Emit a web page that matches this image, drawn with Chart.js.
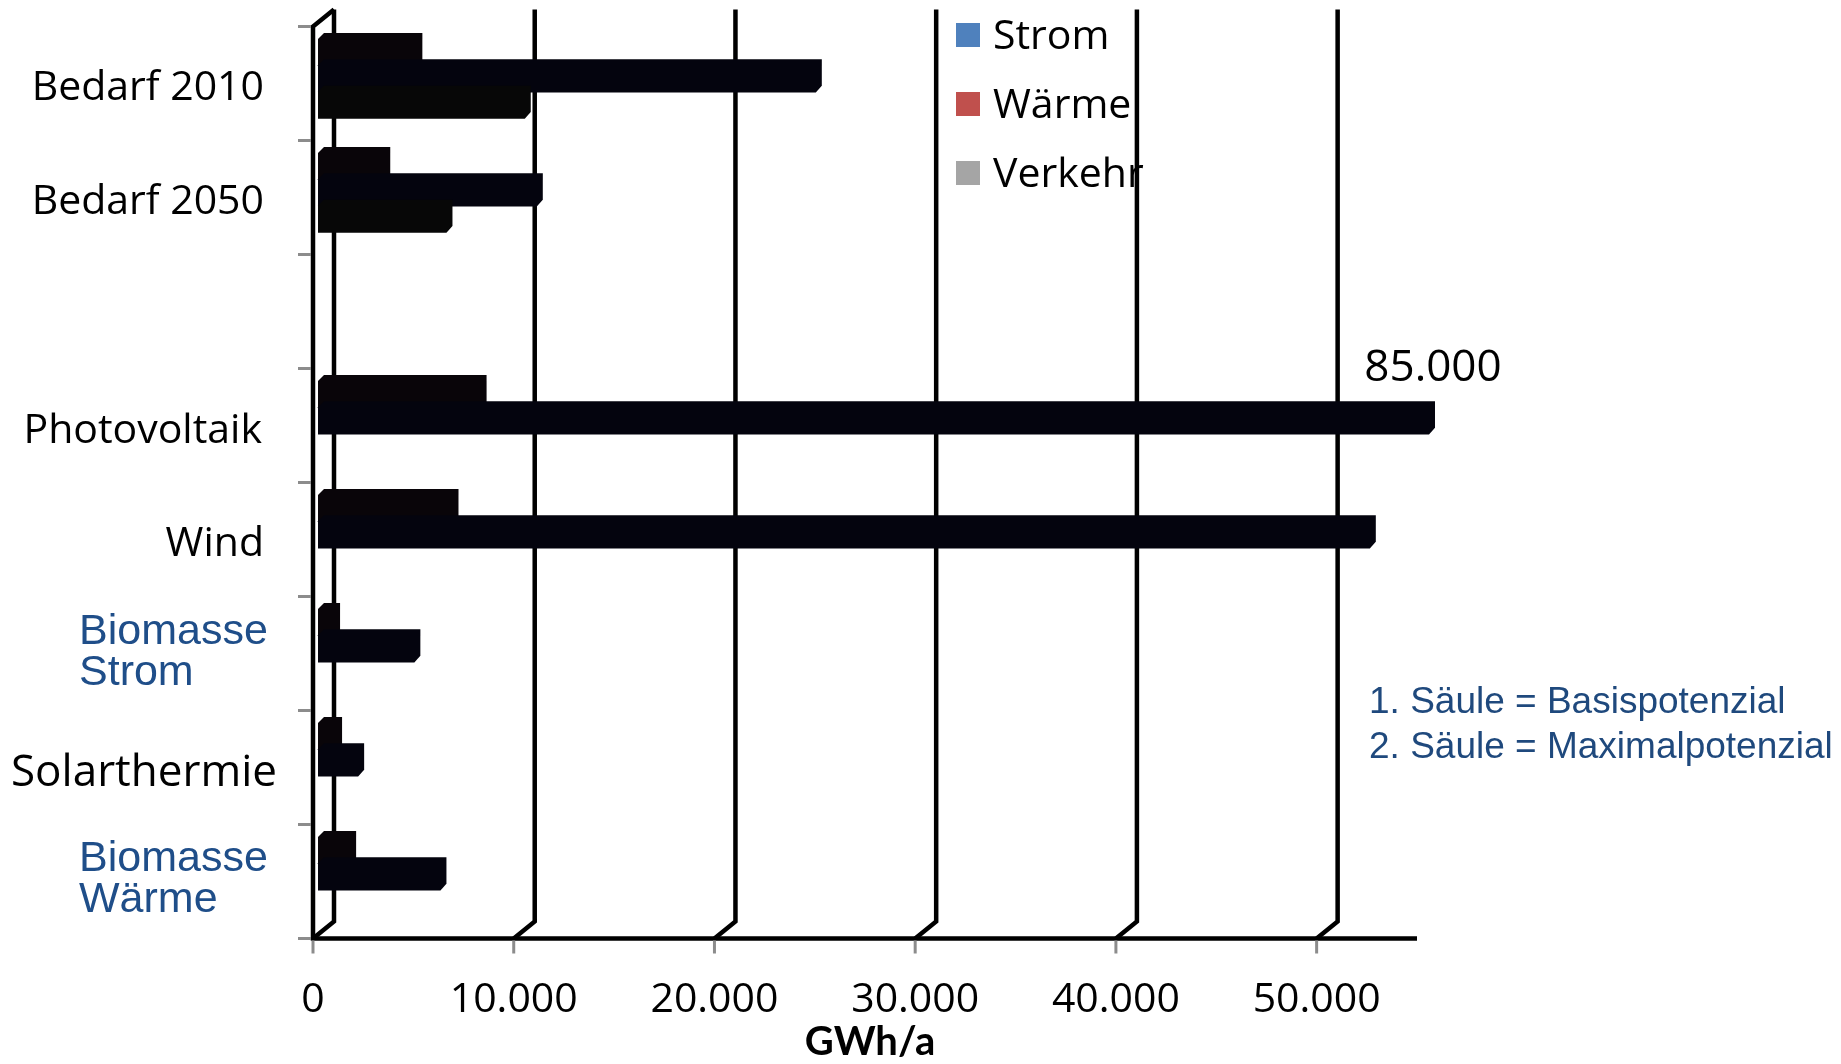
<!DOCTYPE html>
<html lang="de">
<head>
<meta charset="utf-8">
<title>Bedarf und Potenziale</title>
<script src="https://cdn.jsdelivr.net/npm/chart.js@4.4.1/dist/chart.umd.min.js"></script>
<style>
  html, body { margin: 0; padding: 0; background: #fff; }
  canvas { display: block; }
</style>
</head>
<body>
<canvas id="chart" width="1841" height="1064"></canvas>
<script>
// Kategorien (die leere Zeile trennt Bedarf und Potenziale)
const categories = ['Bedarf 2010', 'Bedarf 2050', '', 'Photovoltaik', 'Wind', ['Biomasse', 'Strom'], 'Solarthermie', ['Biomasse', 'Wärme']];

// GWh/a - bei den Potenzialen: 1. Säule = Basis, 2. Säule = Maximum
const strom   = [4900, 3300, null, 8100, 6700, 800, 900, 1600];
const waerme  = [24800, 10900, null, 85000, 52400, 4800, 2000, 6100];
const verkehr = [10300, 6400, null, null, null, null, null, null];

const seriesNames = ['Strom', 'Wärme', 'Verkehr'];
const legendColors = ['#4f81bd', '#c0504d', '#a5a5a5'];
const barColors = ['#090509', '#04040e', '#070707'];

const xTicks = [0, 10000, 20000, 30000, 40000, 50000];
const xMax = 55000;
const axisTitle = 'GWh/a';
const notes = ['1. Säule = Basispotenzial', '2. Säule = Maximalpotenzial'];

const fmt = new Intl.NumberFormat('de-DE');
const FONT = '"Open Sans"';

// 3D-Geometrie
const D = 6;                       // Tiefe der Balkenflächen
const FRONT = { dx: -5, dy: 5 };   // vordere Achsenebene
const BACK = { dx: 16, dy: -12 };  // Rückwand
const BAR_OVERFLOW = 7;            // Balken darf so weit über den Rand

const frame3d = {
    id: 'frame3d',
    beforeDatasetsDraw(chart) {
        const { ctx, chartArea: a, scales: { x } } = chart;
        ctx.save();
        ctx.strokeStyle = '#000';
        ctx.lineWidth = 4.5;
        xTicks.forEach(v => {
            const px = x.getPixelForValue(v);
            ctx.beginPath();
            ctx.moveTo(px + BACK.dx, a.top + BACK.dy);
            ctx.lineTo(px + BACK.dx, a.bottom + BACK.dy);
            ctx.lineTo(px + FRONT.dx, a.bottom + FRONT.dy);
            ctx.stroke();
        });
        ctx.restore();
    },
    afterDatasetsDraw(chart) {
        const { ctx, chartArea: a, scales: { x, y } } = chart;
        const fx = a.left + FRONT.dx;
        const fb = a.bottom + FRONT.dy;
        ctx.save();
        ctx.strokeStyle = '#000';
        ctx.lineWidth = 4.5;
        ctx.beginPath();
        ctx.moveTo(a.left + BACK.dx, a.top + BACK.dy);
        ctx.lineTo(fx, a.top + FRONT.dy);
        ctx.lineTo(fx, fb);
        ctx.lineTo(a.right + FRONT.dx, fb);
        ctx.stroke();

        // graue Teilstriche
        ctx.strokeStyle = '#8c8c8c';
        ctx.lineWidth = 3;
        const n = categories.length;
        for (let i = 0; i <= n; i++) {
            let py;
            if (i === 0) py = a.top;
            else if (i === n) py = a.bottom;
            else py = (y.getPixelForValue(i - 1) + y.getPixelForValue(i)) / 2;
            ctx.beginPath();
            ctx.moveTo(fx - 15, py + FRONT.dy);
            ctx.lineTo(fx - 2, py + FRONT.dy);
            ctx.stroke();
        }
        xTicks.forEach(v => {
            const px = x.getPixelForValue(v) + FRONT.dx;
            ctx.beginPath();
            ctx.moveTo(px, fb + 2);
            ctx.lineTo(px, fb + 15);
            ctx.stroke();
        });
        ctx.restore();
    }
};

const bars3d = {
    id: 'bars3d',
    afterDatasetsDraw(chart) {
        const { ctx, chartArea: a } = chart;
        ctx.save();
        chart.data.datasets.forEach((ds, i) => {
            const meta = chart.getDatasetMeta(i);
            meta.data.forEach((bar, j) => {
                if (ds.data[j] == null) return;
                const { x, y, base, height } = bar.getProps(['x', 'y', 'base', 'height'], true);
                const x0 = Math.min(base, x);
                const x1 = Math.min(Math.max(base, x), a.right + BAR_OVERFLOW);
                const t = y - height / 2, b = y + height / 2;
                // Vorderseite, Oberseite und Stirnseite als ein Körper (leicht überlappend)
                ctx.fillStyle = ds.backgroundColor;
                ctx.beginPath();
                ctx.moveTo(x0, b + 0.8);
                ctx.lineTo(x0, t);
                ctx.lineTo(x0 + D, t - D);
                ctx.lineTo(x1 + D, t - D);
                ctx.lineTo(x1 + D, b - D);
                ctx.lineTo(x1, b + 0.8);
                ctx.closePath();
                ctx.fill();

                // abgeschnittener Balken: Wert als Text
                if (ds.data[j] > xMax) {
                    ctx.fillStyle = '#000';
                    ctx.font = '44px ' + FONT;
                    ctx.textAlign = 'center';
                    ctx.textBaseline = 'alphabetic';
                    ctx.fillText(fmt.format(ds.data[j]), x1 + 4, y - 40);
                }
            });
        });
        ctx.restore();
    }
};

// Lage der Kategorienbeschriftungen (frei gesetzte Textfelder im Original)
const catLabelLayout = [
    { x: 264, align: 'right', dy: [16] },
    { x: 264, align: 'right', dy: [16] },
    null,
    { x: 262, align: 'right', dy: [17] },
    { x: 264, align: 'right', dy: [16] },
    { x: 79, align: 'left', dy: [-10, 31], blue: true },
    { x: 144, align: 'center', dy: [18], size: 44 },
    { x: 79, align: 'left', dy: [-11, 30], blue: true }
];

const catLabels = {
    id: 'catLabels',
    afterDraw(chart) {
        const { ctx, scales: { y } } = chart;
        ctx.save();
        ctx.textBaseline = 'alphabetic';
        categories.forEach((label, i) => {
            const l = catLabelLayout[i];
            if (!l) return;
            const lines = Array.isArray(label) ? label : [label];
            const cy = y.getPixelForValue(i) + FRONT.dy;
            ctx.fillStyle = l.blue ? '#1f4e89' : '#000';
            ctx.font = l.blue ? '43px "Liberation Sans"' : (l.size || 41) + 'px ' + FONT;
            ctx.textAlign = l.align;
            lines.forEach((txt, k) => ctx.fillText(txt, l.x, cy + l.dy[k]));
        });
        ctx.restore();
    }
};

const legendBox = {
    id: 'legendBox',
    afterDraw(chart) {
        const { ctx } = chart;
        ctx.save();
        ctx.font = '41px ' + FONT;
        ctx.textAlign = 'left';
        ctx.textBaseline = 'alphabetic';
        seriesNames.forEach((name, i) => {
            const top = 23 + i * 69;
            ctx.fillStyle = legendColors[i];
            ctx.fillRect(956, top, 24, 24);
            ctx.fillStyle = '#000';
            ctx.fillText(name, 993, top + 26);
        });
        ctx.restore();
    }
};

const notesPlugin = {
    id: 'notes',
    afterDraw(chart) {
        const { ctx } = chart;
        ctx.save();
        ctx.font = '37px "Liberation Sans"';
        ctx.fillStyle = '#1f497d';
        ctx.textAlign = 'left';
        ctx.textBaseline = 'alphabetic';
        notes.forEach((txt, i) => ctx.fillText(txt, 1369, 713 + i * 45));
        ctx.restore();
    }
};

function draw() {
    new Chart(document.getElementById('chart'), {
        type: 'bar',
        data: {
            labels: categories,
            datasets: [strom, waerme, verkehr].map((data, i) => ({
                label: seriesNames[i],
                data,
                backgroundColor: barColors[i],
                borderWidth: 0,
                barPercentage: 1,
                categoryPercentage: 0.693,
                clip: { left: false, top: false, right: BAR_OVERFLOW, bottom: false }
            }))
        },
        options: {
            indexAxis: 'y',
            responsive: false,
            animation: false,
            layout: { padding: { left: 318, right: 419, top: 21.5, bottom: 0 } },
            plugins: {
                legend: { display: false },
                tooltip: { enabled: false }
            },
            scales: {
                y: { display: false },
                x: {
                    min: 0,
                    max: xMax,
                    afterBuildTicks: axis => { axis.ticks = xTicks.map(value => ({ value })); },
                    afterFit: axis => { axis.height = 130.5; },
                    grid: { display: false },
                    border: { display: false },
                    ticks: {
                        font: { family: 'Open Sans', size: 41 },
                        color: '#000',
                        padding: 34,
                        labelOffset: -5,
                        maxRotation: 0,
                        autoSkip: false,
                        callback: v => fmt.format(v)
                    },
                    title: {
                        display: true,
                        text: axisTitle,
                        font: { family: 'Lato', size: 40, weight: 'bold', lineHeight: 1.1 },
                        color: '#000',
                        padding: { top: 0, bottom: 0 }
                    }
                }
            }
        },
        plugins: [frame3d, bars3d, catLabels, legendBox, notesPlugin]
    });
}

Promise.all([
    document.fonts.load('41px "Open Sans"'),
    document.fonts.load('bold 40px Lato'),
    document.fonts.load('41px "Liberation Sans"')
]).then(draw, draw);
</script>
</body>
</html>
